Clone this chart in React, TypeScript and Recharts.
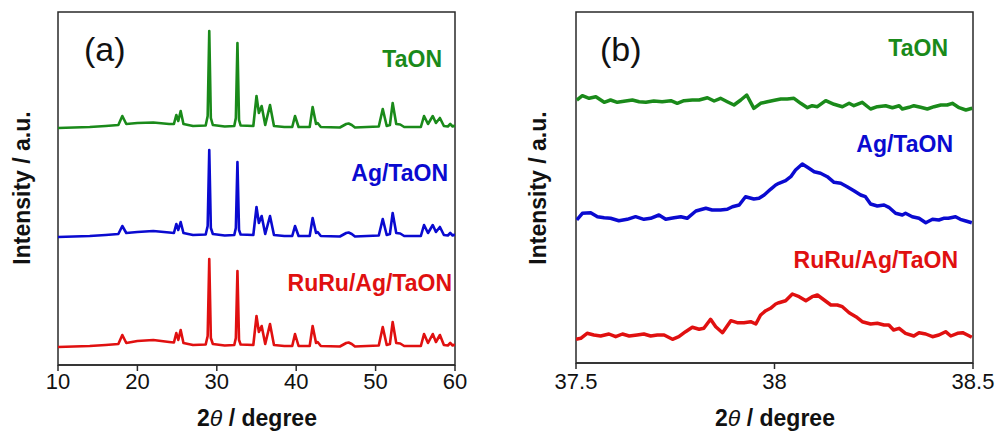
import React from 'react';
import { LineChart, Line, XAxis, YAxis, ReferenceArea } from 'recharts';

// ---- panel (a): wide scan 10-60 deg ----
const wideTheta = [
  10, 12, 14, 16, 17.6, 18.1, 18.6, 20, 22, 24, 24.6, 24.9, 25.15, 25.45, 25.8, 27, 28.6, 28.85, 29.05, 29.25, 29.5,
  31, 32.2, 32.4, 32.6, 32.8, 33.0, 34.6, 35.0, 35.3, 35.65, 36.1, 36.7, 37.2, 38.5, 39.5, 39.85, 40.3, 41.7, 42.07,
  42.5, 42.7, 43.1, 45.5, 46.3, 46.6, 47.0, 47.4, 50.4, 50.9, 51.4, 51.8, 52.15, 52.6, 53.1, 53.6, 55.7,
  56.1, 56.6, 57.2, 57.6, 58.1, 58.6, 59.1, 59.4, 59.7, 60,
];
const wideTaON = [
  0, 0.5, 1, 2, 3, 12, 4, 5, 5.5, 4, 4, 13, 7, 17, 4, 2, 2.5, 12, 97, 10, 3,
  1.5, 2, 10, 85, 8, 2.5, 2, 32, 15, 22, 3, 23, 2, 1, 1, 12, 1, 1, 21,
  4, 5, 1, 0.5, 4, 4.5, 3, 0.5, 1.5, 19, 2, 3, 25, 4, 3.5, 1, 1,
  12, 4, 12, 5, 10, 2, 1.5, 4, 1.5, 2.5,
];
const wideAgTaON = [
  0, 0.5, 1, 2, 3, 11, 4, 5, 6, 4.5, 4, 13, 7, 15, 4, 2, 2.5, 11, 87, 9, 3,
  1.5, 2, 9, 75, 7, 2.5, 2, 30, 14, 21, 3, 21, 2, 1, 1, 11, 1, 1, 19,
  4, 5, 1, 0.5, 4, 4.5, 3, 0.5, 1.5, 18, 2, 3, 24, 4, 3.5, 1, 1,
  12, 4, 12, 5, 10, 2, 1.5, 4, 1.5, 2.5,
];
const wideRuRuAgTaON = [
  0, 0.5, 1, 2, 3, 12, 4, 6, 7, 5, 4.5, 14, 7, 17, 4, 2, 2.5, 11, 88, 9, 3,
  1.5, 2, 9, 76, 7, 2.5, 2, 31, 15, 21, 3, 23, 2, 1, 1, 13, 1, 1, 21,
  4, 5, 1, 0.5, 4, 4.5, 3, 0.5, 1.5, 20, 2, 3, 25, 4, 3.5, 1, 1,
  13, 4, 13, 5, 12, 2, 1.5, 4, 1.5, 2.5,
];
const wideTicks = [10, 20, 30, 40, 50, 60];
const wideOffsetTaON = 237;
const wideOffsetAg = 128;
const wideOffsetRu = 18;

// ---- panel (b): 37.5-38.5 deg ----
const zoomThetaTaON = [
  37.502, 37.516, 37.533, 37.55, 37.571, 37.587, 37.604, 37.625, 37.642, 37.659, 37.676, 37.696, 37.717,
  37.739, 37.755, 37.772, 37.793, 37.81, 37.831, 37.848, 37.864, 37.881, 37.898, 37.915, 37.93, 37.948,
  37.965, 37.982, 38.003, 38.016, 38.032, 38.049, 38.066, 38.083, 38.095, 38.108, 38.129, 38.15, 38.171,
  38.188, 38.2, 38.221, 38.242, 38.259, 38.28, 38.297, 38.314, 38.322, 38.339, 38.351, 38.368, 38.385,
  38.402, 38.419, 38.435, 38.448, 38.465, 38.482, 38.498,
];
const zoomTaON = [
  13, 17.3, 14.7, 16.3, 10.7, 13, 10.7, 12, 13, 11.3, 10.7, 12, 11.3, 12.3, 9.7, 12.3, 13, 13, 15.3, 12,
  14.7, 11.3, 8, 13, 18, 4.7, 9.7, 11.3, 13, 14, 14, 14.7, 9.7, 5.3, 7.3, 6.3, 12.3, 8.7, 6.3, 9.7, 7.3,
  10.7, 4, 6.3, 7.3, 5.3, 7.3, 4, 5.7, 7.3, 5.7, 4, 6.3, 8, 8, 9.7, 5.3, 3, 4.7,
];
const zoomThetaAg = [
  37.502, 37.516, 37.537, 37.554, 37.571, 37.587, 37.608, 37.629, 37.65, 37.671, 37.688, 37.709, 37.726,
  37.747, 37.764, 37.78, 37.802, 37.827, 37.843, 37.864, 37.881, 37.894, 37.911, 37.927, 37.948, 37.961,
  37.974, 37.99, 38.003, 38.011, 38.028, 38.041, 38.053, 38.07, 38.083, 38.1, 38.116, 38.133, 38.15,
  38.167, 38.183, 38.2, 38.217, 38.229, 38.242, 38.259, 38.276, 38.288, 38.305, 38.322, 38.33, 38.347,
  38.364, 38.381, 38.398, 38.414, 38.426, 38.438, 38.456, 38.468, 38.482, 38.497,
];
const zoomAgTaON = [
  13, 19.7, 20.3, 16.3, 15.3, 14.7, 12.3, 13.7, 16.3, 13.7, 14.7, 18, 13.7, 15.3, 16.3, 14.7, 22, 24.7,
  23, 23, 23.7, 26.3, 28, 36.3, 34, 34.7, 38, 43.7, 48, 49.7, 52.3, 56.3, 63, 69, 65.7, 61.3, 59.7, 56.3,
  50.7, 49.7, 46.3, 42.3, 38, 36.3, 29, 27, 28, 25.7, 19.7, 18, 19.7, 16.3, 14.7, 10.3, 13.7, 13, 14.7,
  14.7, 16.3, 13.7, 12, 10.3,
];
const zoomThetaRu = [
  37.5, 37.512, 37.528, 37.545, 37.562, 37.583, 37.6, 37.617, 37.634, 37.654, 37.671, 37.688, 37.705,
  37.722, 37.743, 37.759, 37.776, 37.793, 37.81, 37.822, 37.839, 37.852, 37.869, 37.89, 37.906, 37.923,
  37.94, 37.953, 37.965, 37.978, 37.99, 38.003, 38.011, 38.028, 38.045, 38.062, 38.079, 38.095, 38.108,
  38.125, 38.142, 38.158, 38.171, 38.188, 38.205, 38.221, 38.242, 38.259, 38.276, 38.288, 38.3, 38.314,
  38.33, 38.351, 38.364, 38.381, 38.398, 38.414, 38.431, 38.444, 38.461, 38.474, 38.486, 38.497,
];
const zoomRuRuAgTaON = [
  8.7, 9.7, 14.7, 13, 12, 14, 11.3, 14, 12, 13, 14, 12, 13, 13, 8.7, 11.3, 16.3, 20.7, 18.7, 19.7, 28.7,
  21.3, 15.3, 27.3, 25.3, 25.3, 26.3, 24, 33, 37.3, 39.7, 44, 45.3, 47.3, 54, 51.3, 47.3, 51.3, 53, 48,
  43, 43, 41.3, 35.3, 31.3, 26.3, 24, 24.7, 23, 23, 18, 19.7, 14.7, 12, 15.3, 14, 11.3, 13, 16.3, 12,
  14.7, 15.3, 13, 10.7,
];
const zoomTicks = [37.5, 38, 38.5];
const zoomOffsetTaON = 250;
const zoomOffsetAg = 130;
const zoomOffsetRu = 15;

const GREEN = '#1a8a1a';
const BLUE = '#0a0ad0';
const RED = '#e01010';
const AXIS = '#2a2a2a';
const FONT = '"Liberation Sans", Arial, sans-serif';

const wideRows = wideTheta.map((x, i) => ({
  x,
  taon: wideTaON[i] + wideOffsetTaON,
  ag: wideAgTaON[i] + wideOffsetAg,
  ru: wideRuRuAgTaON[i] + wideOffsetRu,
}));

const toRows = (xs: number[], ys: number[], off: number) => xs.map((x, i) => ({ x, y: ys[i] + off }));
const zoomRowsTaON = toRows(zoomThetaTaON, zoomTaON, zoomOffsetTaON);
const zoomRowsAg = toRows(zoomThetaAg, zoomAgTaON, zoomOffsetAg);
const zoomRowsRu = toRows(zoomThetaRu, zoomRuRuAgTaON, zoomOffsetRu);

const axisLine = { stroke: AXIS, strokeWidth: 1.5 };
const tickStyle = { fill: '#111', fontSize: 22, fontFamily: FONT };

export default function App() {
  return (
    <div style={{ position: 'absolute', left: 0, top: 0, width: 998, height: 433, background: '#fff' }}>
      {/* panel (a) */}
      <div style={{ position: 'absolute', left: 0, top: 0 }}>
        <LineChart width={475} height={433} data={wideRows} margin={{ top: 12, right: 20, left: 58, bottom: 38 }}>
          <XAxis
            dataKey="x"
            type="number"
            domain={[10, 60]}
            ticks={wideTicks}
            interval={0}
            axisLine={axisLine}
            tickLine={axisLine}
            tickSize={6}
            tickMargin={2}
            tick={tickStyle}
            height={30}
            allowDataOverflow
          />
          <YAxis hide type="number" domain={[0, 353]} allowDataOverflow />
          {/* plot frame */}
          <ReferenceArea x1={10} x2={60} y1={0} y2={353} fill="none" stroke={AXIS} strokeWidth={1.5} ifOverflow="visible" />
          <Line dataKey="taon" stroke={GREEN} strokeWidth={2.6} dot={false} type="linear" isAnimationActive={false} strokeLinejoin="round" />
          <Line dataKey="ag" stroke={BLUE} strokeWidth={2.6} dot={false} type="linear" isAnimationActive={false} strokeLinejoin="round" />
          <Line dataKey="ru" stroke={RED} strokeWidth={2.6} dot={false} type="linear" isAnimationActive={false} strokeLinejoin="round" />
        </LineChart>
      </div>

      {/* panel (b) */}
      <div style={{ position: 'absolute', left: 490, top: 0 }}>
        <LineChart width={508} height={433} margin={{ top: 12, right: 25, left: 86, bottom: 40 }}>
          <XAxis
            dataKey="x"
            type="number"
            domain={[37.5, 38.5]}
            ticks={zoomTicks}
            interval={0}
            axisLine={axisLine}
            tickLine={axisLine}
            tickSize={6}
            tickMargin={4}
            tick={tickStyle}
            height={30}
            allowDataOverflow
          />
          <YAxis hide type="number" domain={[0, 351]} allowDataOverflow />
          <ReferenceArea x1={37.5} x2={38.5} y1={0} y2={351} fill="none" stroke={AXIS} strokeWidth={1.5} ifOverflow="visible" />
          <Line data={zoomRowsTaON} dataKey="y" stroke={GREEN} strokeWidth={3.5} dot={false} type="linear" isAnimationActive={false} strokeLinejoin="round" />
          <Line data={zoomRowsAg} dataKey="y" stroke={BLUE} strokeWidth={3.5} dot={false} type="linear" isAnimationActive={false} strokeLinejoin="round" />
          <Line data={zoomRowsRu} dataKey="y" stroke={RED} strokeWidth={3.5} dot={false} type="linear" isAnimationActive={false} strokeLinejoin="round" />
        </LineChart>
      </div>

      {/* annotations */}
      <svg width={998} height={433} style={{ position: 'absolute', left: 0, top: 0, pointerEvents: 'none' }} fontFamily={FONT}>
        <text x={84} y={61} fontSize={34} fill="#111">(a)</text>
        <text x={600} y={61} fontSize={34} fill="#111">(b)</text>

        <g fontWeight="bold" fontSize={23} textAnchor="end">
          <text x={442} y={67} fill={GREEN}>TaON</text>
          <text x={448} y={181} fill={BLUE}>Ag/TaON</text>
          <text x={452} y={291} fill={RED}>RuRu/Ag/TaON</text>
          <text x={948} y={56} fill={GREEN}>TaON</text>
          <text x={953} y={152} fill={BLUE}>Ag/TaON</text>
          <text x={958} y={268} fill={RED}>RuRu/Ag/TaON</text>
        </g>

        <g fontWeight="bold" fontSize={23} fill="#111" textAnchor="middle">
          <text x={257} y={426}>2<tspan fontStyle="italic" fontWeight="normal">θ</tspan> / degree</text>
          <text x={775} y={426}>2<tspan fontStyle="italic" fontWeight="normal">θ</tspan> / degree</text>
          <text x={30} y={188} transform="rotate(-90 30 188)">Intensity / a.u.</text>
          <text x={546} y={188} transform="rotate(-90 546 188)">Intensity / a.u.</text>
        </g>
      </svg>
    </div>
  );
}
